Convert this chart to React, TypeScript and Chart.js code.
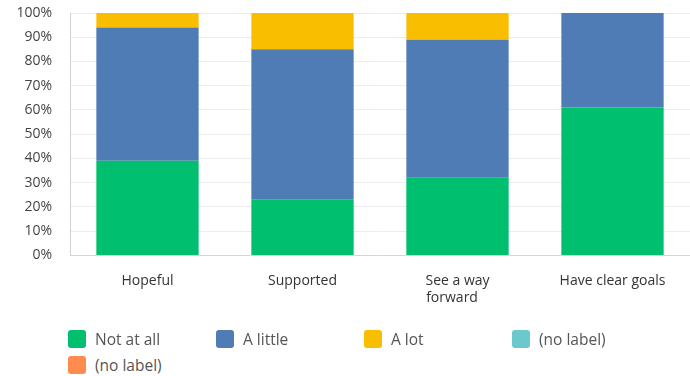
import React, { useEffect, useRef } from "react";
import { Chart, registerables } from "chart.js";

Chart.register(...registerables);

const categories: (string | string[])[] = ["Hopeful", "Supported", ["See a way", "forward"], "Have clear goals"];
const notAtAll = [39, 23, 32, 61];
const aLittle = [55, 62, 57, 39];
const aLot = [6, 15, 11, 0];
const noLabelA = [0, 0, 0, 0];
const noLabelB = [0, 0, 0, 0];
const seriesNames = ["Not at all", "A little", "A lot", "(no label)", "(no label)"];
const seriesColors = ["#00BF6F", "#507CB6", "#F9BE00", "#6BC8CD", "#FF8B4F"];
const yMax = 100;
const yStep = 10;

const FONT = "'Open Sans', 'Noto Sans', sans-serif";
const TICK_SIZE = 14;

// left-align multi-line labels by padding shorter lines with trailing spaces
function leftAlignLines(lines: string[]): string[] {
  const c = document.createElement("canvas").getContext("2d")!;
  c.font = `${TICK_SIZE}px ${FONT}`;
  const widths = lines.map((l) => c.measureText(l).width);
  const maxW = Math.max(...widths);
  const sp = c.measureText(" ").width;
  return lines.map((l, i) => l + " ".repeat(Math.round((maxW - widths[i]) / sp)));
}

export default function App() {
  const canvasRef = useRef<HTMLCanvasElement | null>(null);

  useEffect(() => {
    const canvas = canvasRef.current;
    if (!canvas) return;
    const series = [notAtAll, aLittle, aLot, noLabelA, noLabelB];
    const chart = new Chart(canvas, {
      type: "bar",
      data: {
        labels: categories as any,
        datasets: series.map((d, i) => ({
          label: seriesNames[i],
          data: d,
          backgroundColor: seriesColors[i],
          borderWidth: 0,
          categoryPercentage: 1,
          barPercentage: 0.66,
        })),
      },
      options: {
        animation: false,
        responsive: false,
        maintainAspectRatio: false,
        layout: { autoPadding: false, padding: { top: 13, left: 0, right: 0, bottom: 10 } },
        plugins: {
          legend: { display: false },
          title: { display: false },
          tooltip: { enabled: false },
        },
        scales: {
          x: {
            stacked: true,
            grid: { display: false, drawTicks: false },
            border: { display: true, color: "#d6d6d6" },
            ticks: {
              color: "#333",
              font: { family: FONT, size: TICK_SIZE },
              padding: 17,
              maxRotation: 0,
              autoSkip: false,
              callback: function (this: any, _v: any, i: number) {
                const l = categories[i];
                return Array.isArray(l) ? leftAlignLines(l) : l;
              },
            },
          },
          y: {
            stacked: true,
            min: 0,
            max: yMax,
            afterFit: (s: any) => {
              s.width = 70;
              s.paddingTop = 0;
              s.paddingBottom = 0;
            },
            grid: { color: "#ececec", lineWidth: 1, drawTicks: false },
            border: { display: true, color: "#d0d0d0" },
            ticks: {
              stepSize: yStep,
              color: "#444",
              font: { family: FONT, size: TICK_SIZE },
              padding: 18,
              callback: (v: any) => v + "%",
            },
          },
        },
      },
    });
    return () => chart.destroy();
  }, []);

  const legendItems = seriesNames.map((name, i) => {
    const col = i % 4;
    const row = Math.floor(i / 4);
    return (
      <div
        key={i}
        style={{
          position: "absolute",
          left: 68 + col * 148,
          top: 330 + row * 26,
          display: "flex",
          alignItems: "center",
          height: 18,
        }}
      >
        <div
          style={{
            width: 18,
            height: 18,
            borderRadius: 3,
            background: seriesColors[i],
          }}
        />
        <span
          style={{
            marginLeft: 9,
            fontFamily: FONT,
            fontSize: 15.5,
            color: "#555",
            whiteSpace: "nowrap",
          }}
        >
          {name}
        </span>
      </div>
    );
  });

  return (
    <div
      style={{
        position: "absolute",
        left: 0,
        top: 0,
        width: 690,
        height: 376,
        background: "#fff",
        overflow: "hidden",
      }}
    >
      <canvas ref={canvasRef} width={690} height={333} style={{ display: "block" }} />
      {legendItems}
    </div>
  );
}
